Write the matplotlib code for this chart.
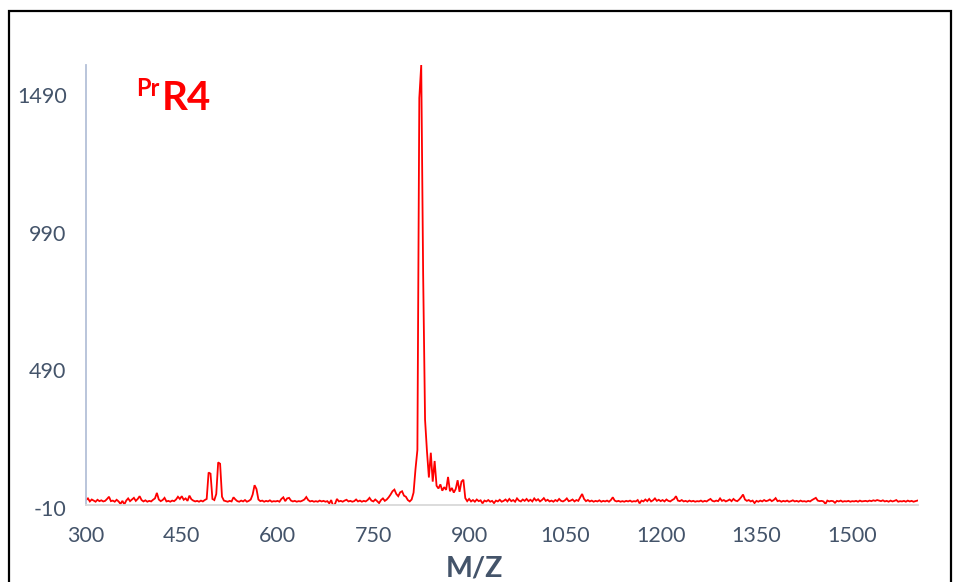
import numpy as np
import matplotlib
matplotlib.use("Agg")
import matplotlib.pyplot as plt
from matplotlib.patches import Rectangle
from matplotlib.transforms import ScaledTranslation

# m/z sampling (3 Da steps from 300 to 1602)
mz_start, mz_step, mz_stop = 300, 3, 1603
mz = np.arange(mz_start, mz_stop, mz_step)

# Intensity, one row per 30 Da
intensity = [
    8, 14, 3, 10, 6, 2, 9, 4, 7, 3,                 # 300
    5, 12, 20, 4, 6, 2, 9, 3, -6, 5,                # 330
    -8, 6, 14, 4, 10, 16, 5, 12, 22, 8,             # 360
    3, 7, 2, 5, 3, 9, 14, 34, 10, 4,                # 390
    8, 16, 3, 5, 2, 6, 4, 10, 20, 12,               # 420
    22, 9, 14, 5, 24, 11, 6, 3, 5, 2,               # 450
    6, 3, 8, 12, 108, 104, 12, 8, 30, 145,          # 480
    140, 20, 6, 4, 2, 5, 3, 18, 10, 4,              # 510
    2, 6, 3, 8, 2, 5, 10, 28, 62, 48,               # 540
    10, 4, 6, 2, 5, 3, 7, 2, 4, 3,                  # 570
    5, 2, 12, 18, 4, 14, 16, 6, 3, 5,               # 600
    2, 4, 3, 6, 10, 19, 8, 3, 5, 2,                 # 630
    4, 2, 6, 3, 5, 2, 4, -4, 8, -14,                # 660
    -6, 12, 3, 5, 2, 6, 9, 3, 5, 2,                 # 690
    4, 10, 3, 6, 2, 5, 3, 8, 16, 6,                 # 720
    3, 10, 4, -3, 8, 14, 5, 10, 18, 28,             # 750
    40, 46, 30, 22, 36, 40, 24, 20, 8, 3,           # 780
    10, 35, 120, 190, 1470, 1590, 830, 300, 185, 90,  # 810
    180, 75, 150, 60, 50, 65, 42, 55, 45, 92,       # 840
    40, 52, 35, 48, 80, 38, 75, 82, 15, 4,          # 870
    12, 3, 8, 2, 10, 4, 7, -4, 6, 3,                # 900
    8, 2, 5, -3, 6, 3, 9, 2, 5, 10,                 # 930
    3, 12, 4, 8, 2, 14, 6, 3, 10, 5,                # 960
    12, 4, 9, 3, 14, 6, 11, 3, 8, 15,               # 990
    5, 9, 3, 6, 2, 8, 4, 12, 5, 3,                  # 1020
    7, 14, 4, 6, 10, 3, 8, 5, 18, 30,               # 1050
    12, 4, 8, 3, 6, 2, 5, 3, 7, 2,                  # 1080
    5, 3, 6, 2, 8, 18, 6, 3, 5, 2,                  # 1110
    4, 2, 5, 3, 6, 2, 4, 3, 8, -4,                  # 1140
    6, 3, 10, 4, 12, 3, 7, 14, 5, 9,                # 1170
    4, 8, 3, 10, 5, 3, 8, 12, 22, 6,                # 1200
    4, 8, 3, 5, 2, 6, 3, 5, 2, 4,                   # 1230
    3, 6, 2, 5, 3, 8, 12, 5, 3, 6,                  # 1260
    4, 14, 5, 8, 3, 6, 10, 4, 12, 6,                # 1290
    4, 10, 18, 28, 10, 5, 8, 3, 6, -3,              # 1320
    5, 2, 6, 3, 8, 4, 6, 10, 4, 8,                  # 1350
    15, 4, 6, 2, 5, 3, 6, 2, 4, 7,                  # 1380
    3, 5, 2, 6, 3, 4, 2, 5, 3, 8,                   # 1410
    12, 16, 6, 4, 5, 3, -6, 6, 3, 5,                # 1440
    4, -2, 5, 3, 6, 2, 4, 3, 5, 2,                  # 1470
    4, 3, 5, 2, 6, 3, 4, 5, 3, 6,                   # 1500
    4, 7, 5, 8, 6, 4, 7, 3, 5, 2,                   # 1530
    6, 3, 5, 8, 2, 4, 3, 5, 2, 6,                   # 1560
    3, 5, 2, 4, 6,                                  # 1590
]

x_ticks = [300, 450, 600, 750, 900, 1050, 1200, 1350, 1500]
y_ticks = [-10, 490, 990, 1490]
x_label = "M/Z"
title_sup = "Pr"
title_main = "R4"

W, H = 954, 582
fig = plt.figure(figsize=(W / 100, H / 100), dpi=100)
fig.patch.set_facecolor("white")

def fx(px):
    return px / W

def fy(py):
    return 1 - py / H

ax = fig.add_axes([fx(86), fy(505), fx(918) - fx(86), fy(65) - fy(505)])
ax.plot(mz, intensity, color="#FF0000", lw=1.3, solid_joinstyle="miter")

ax.set_xlim(300, 1603)
ax.set_ylim(-10, 1590)
ax.set_xticks(x_ticks)
ax.set_yticks(y_ticks)

text_color = "#44546A"
tick_font = dict(family="Lato", size=15.5, color=text_color)
ax.set_xticklabels([str(v) for v in x_ticks], **tick_font)
ax.set_yticklabels([str(v) for v in y_ticks], **tick_font)
ax.tick_params(axis="both", length=0)
ax.tick_params(axis="x", pad=15)
ax.tick_params(axis="y", pad=14)

# nudge y labels slightly downward
shift = ScaledTranslation(0, -3 / 100, fig.dpi_scale_trans)
for lbl in ax.get_yticklabels():
    lbl.set_transform(lbl.get_transform() + shift)

for side in ("top", "right"):
    ax.spines[side].set_visible(False)
ax.spines["left"].set_color("#B4C0D8")
ax.spines["left"].set_linewidth(1.3)
ax.spines["bottom"].set_color("#D9D9D9")
ax.spines["bottom"].set_linewidth(1.3)

fig.text(fx(474), fy(577), x_label, ha="center", va="baseline",
         family="Lato", weight="bold", size=20.5, color=text_color)

fig.text(fx(136), fy(96), title_sup, ha="left", va="baseline",
         family="Lato", weight="bold", size=17, color="#FF0000")
fig.text(fx(162), fy(110), title_main, ha="left", va="baseline",
         family="Lato", weight="bold", size=29, color="#FF0000")

# outer border of the chart area
fig.add_artist(Rectangle((fx(9), fy(600)), fx(951) - fx(9), fy(11) - fy(600),
                         transform=fig.transFigure, fill=False,
                         edgecolor="black", lw=1.6, clip_on=False))

fig.savefig("out.png", dpi=100)
